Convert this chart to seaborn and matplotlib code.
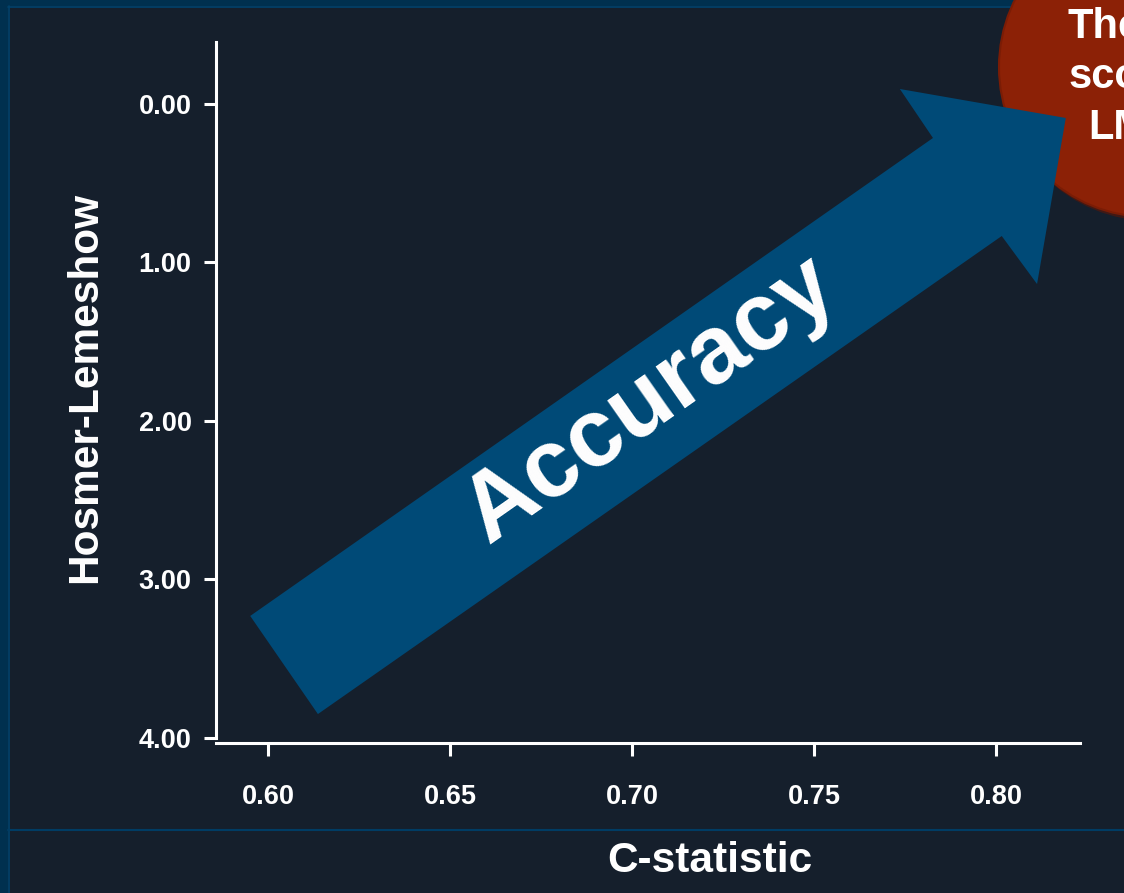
import matplotlib
matplotlib.use("Agg")
import matplotlib.pyplot as plt
from matplotlib.patches import Polygon, Circle, Rectangle
from matplotlib.lines import Line2D
from matplotlib.ticker import FormatStrFormatter
import seaborn as sns

# ---- chart content -------------------------------------------------------
x_ticks = [0.60, 0.65, 0.70, 0.75, 0.80]
y_ticks = [0.00, 1.00, 2.00, 3.00, 4.00]
x_label = "C-statistic"
y_label = "Hosmer-Lemeshow"
arrow_label = "Accuracy"
badge_lines = ["The", "sco", "LM"]

# ---- styling ---------------------------------------------------------------
BG = "#151f2c"
FRAME = "#00304f"
FRAME_EDGE = "#00436d"
ARROW = "#004a77"
BADGE = "#8c2106"
WHITE = "#ffffff"

sns.set_theme(style="dark", rc={
    "axes.facecolor": "none",
    "figure.facecolor": BG,
    "axes.edgecolor": WHITE,
    "xtick.color": WHITE,
    "ytick.color": WHITE,
    "text.color": WHITE,
    "axes.labelcolor": WHITE,
})
plt.rcParams["font.family"] = ["Liberation Sans", "DejaVu Sans"]
plt.rcParams["font.weight"] = "bold"

W, H = 1124, 893
fig = plt.figure(figsize=(W / 100, H / 100), dpi=100)
fig.patch.set_facecolor(BG)

# slide frame: blue band on top and left, thin rule above the x-axis title
fig.add_artist(Rectangle((0, 1 - 6 / H), 1, 6 / H, transform=fig.transFigure,
                         facecolor=FRAME, edgecolor="none", zorder=-2))
fig.add_artist(Rectangle((0, 0), 8 / W, 1, transform=fig.transFigure,
                         facecolor=FRAME, edgecolor="none", zorder=-2))
fig.add_artist(Line2D([8 / W, 1], [1 - 6.5 / H, 1 - 6.5 / H], transform=fig.transFigure,
                      color=FRAME_EDGE, lw=1.2, zorder=-1))
fig.add_artist(Line2D([8.5 / W, 8.5 / W], [0, 1 - 6 / H], transform=fig.transFigure,
                      color=FRAME_EDGE, lw=1.2, zorder=-1))
fig.add_artist(Line2D([8 / W, 1], [1 - 830 / H, 1 - 830 / H], transform=fig.transFigure,
                      color="#003c64", lw=1.5, zorder=-1))

# axes box (pixel layout)
left, right, top, bottom = 216, 1080, 42, 738
ax = fig.add_axes([left / W, 1 - bottom / H, (right - left) / W, (bottom - top) / H])

ax.set_xlim(0.5857, 0.8231)
ax.set_ylim(4.0, -0.391)
ax.set_xticks(x_ticks)
ax.set_yticks(y_ticks)
ax.xaxis.set_major_formatter(FormatStrFormatter("%.2f"))
ax.yaxis.set_major_formatter(FormatStrFormatter("%.2f"))
ax.grid(False)

sns.despine(ax=ax)
for side in ("left", "bottom"):
    ax.spines[side].set_color(WHITE)
    ax.spines[side].set_linewidth(2.2)
ax.spines["bottom"].set_position(("outward", 3.6))

ax.tick_params(axis="both", which="major", direction="out", length=9, width=2.2,
               colors=WHITE, labelsize=19.5)
ax.tick_params(axis="x", pad=20.5, bottom=True)
ax.tick_params(axis="y", pad=8.5, left=True)
for lab in ax.get_xticklabels() + ax.get_yticklabels():
    lab.set_fontweight("bold")

ax.set_xlabel(x_label, fontsize=30.5, fontweight="bold", va="center")
ax.xaxis.set_label_coords((710 - left) / (right - left), (bottom - 861) / (bottom - top))
ax.set_ylabel(y_label, fontsize=30.5, fontweight="bold", va="center", ha="center")
ax.yaxis.set_label_coords((85 - left) / (right - left), (bottom - 387) / (bottom - top))

# red badge in the upper-right corner (inches from the lower-left of the figure)
ax.add_patch(Circle((11.52, H / 100 - 0.69), 1.52, transform=fig.dpi_scale_trans,
                    facecolor="#5e1506", edgecolor="none", alpha=0.6,
                    clip_on=False, zorder=1))
ax.add_patch(Circle((11.49, H / 100 - 0.67), 1.50, transform=fig.dpi_scale_trans,
                    facecolor=BADGE, edgecolor="#7a1c05", lw=1.5,
                    clip_on=False, zorder=2))
badge_pos = [(1068, 38), (1069, 88), (1088, 139)]
for txt, (px, py) in zip(badge_lines, badge_pos):
    ax.text(px / W, 1 - py / H, txt, transform=fig.transFigure, fontsize=30,
            fontweight="bold", color=WHITE, ha="left", va="baseline",
            clip_on=False, zorder=5)

# big "Accuracy" arrow, outline in data units
arrow_outline = [
    (0.5951, 3.230), (0.7827, 0.2145), (0.7736, -0.0946), (0.8192, 0.0883),
    (0.8113, 1.136), (0.8016, 0.833), (0.6137, 3.849),
]
ax.add_patch(Polygon(arrow_outline, closed=True, facecolor=ARROW,
                     edgecolor="none", zorder=3))
ax.text(0.7050, 1.8675, arrow_label, fontsize=69, fontweight="bold", color=WHITE,
        rotation=35, rotation_mode="anchor", ha="center", va="center", zorder=4)

fig.savefig("out.png", dpi=100, facecolor=BG)
